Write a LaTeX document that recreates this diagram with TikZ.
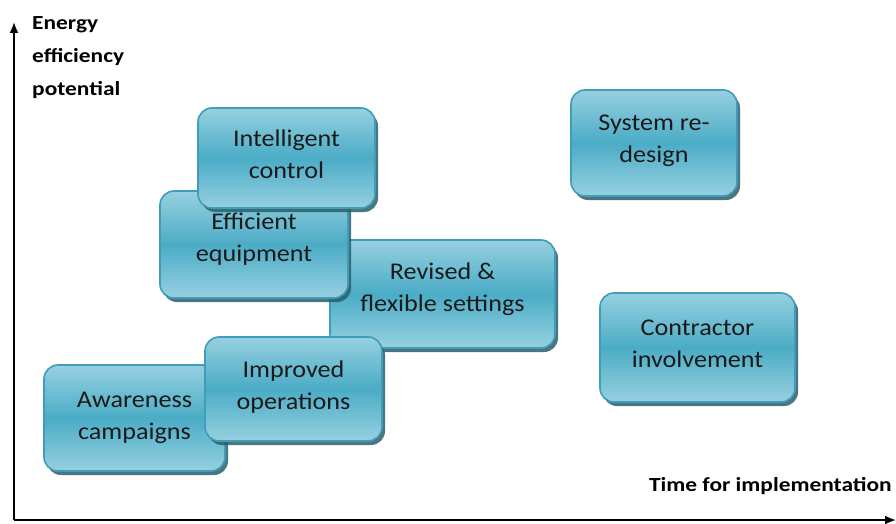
\documentclass[tikz,border=0pt]{standalone}
\usepackage{fontspec}
\setmainfont[FakeStretch=1.09]{Carlito}
\newfontfamily\labfont[FakeStretch=1.17]{Carlito}
\usetikzlibrary{shadows,arrows.meta}
\definecolor{aqua}{HTML}{4BACC6}
\definecolor{aqualight}{HTML}{96D0E0}
\definecolor{aquaborder}{HTML}{3F9DB8}
\definecolor{shadowcol}{HTML}{2A5E6C}
\definecolor{txt}{HTML}{1A1A1A}
\tikzset{
  ebox/.style={rounded corners=14pt, draw=aquaborder, line width=1.6pt,
    top color=aqualight, bottom color=aqualight, middle color=aqua,
    drop shadow={shadow xshift=3pt, shadow yshift=-4pt, fill=shadowcol, opacity=0.85},
    align=center, text=txt, inner sep=0pt,
    font=\fontsize{24}{32}\selectfont},
  axlab/.style={font=\labfont\bfseries\fontsize{20}{33}\selectfont, text=black, inner sep=0pt},
  axis/.style={line width=1.8pt, -{Latex[length=11pt,width=9pt]}}
}
\begin{document}
\begin{tikzpicture}[x=1pt,y=-1pt]
\useasboundingbox (0,0) rectangle (896,524);
\coordinate (o) at (14,520);
\coordinate (ytip) at (14,22);
\coordinate (xtip) at (896,520);
\draw[axis] (o) -- (ytip);
\draw[axis] (o) -- (xtip);
\node[axlab, anchor=north west, align=left] (ylab) at (32,16) {Energy\\efficiency\\potential};
\node[axlab, anchor=east] (xlab) at (892,486) {Time for implementation};

\node[ebox, minimum width=225pt, minimum height=108pt] (rev) at (442.5,294) {Revised \&\\flexible settings\rule[-14pt]{0pt}{0pt}};
\node[ebox, minimum width=188pt, minimum height=107pt] (eff) at (254,244.5) {Efficient\\equipment\rule[-14pt]{0pt}{0pt}};
\node[ebox, minimum width=177pt, minimum height=100pt] (int) at (286.5,158) {Intelligent\\control\rule[-8pt]{0pt}{0pt}};
\node[ebox, minimum width=181pt, minimum height=106pt] (awa) at (134.5,418) {Awareness\\campaigns\rule[-4pt]{0pt}{0pt}};
\node[ebox, minimum width=177pt, minimum height=104pt] (imp) at (293.5,389) {Improved\\operations\rule[-8pt]{0pt}{0pt}};
\node[ebox, minimum width=166pt, minimum height=106pt] (sys) at (654,143) {System re-\\design\rule[-8pt]{0pt}{0pt}};
\node[ebox, minimum width=195pt, minimum height=109pt] (con) at (697.5,347.5) {Contractor\\involvement\rule[-8pt]{0pt}{0pt}};
\end{tikzpicture}
\end{document}
